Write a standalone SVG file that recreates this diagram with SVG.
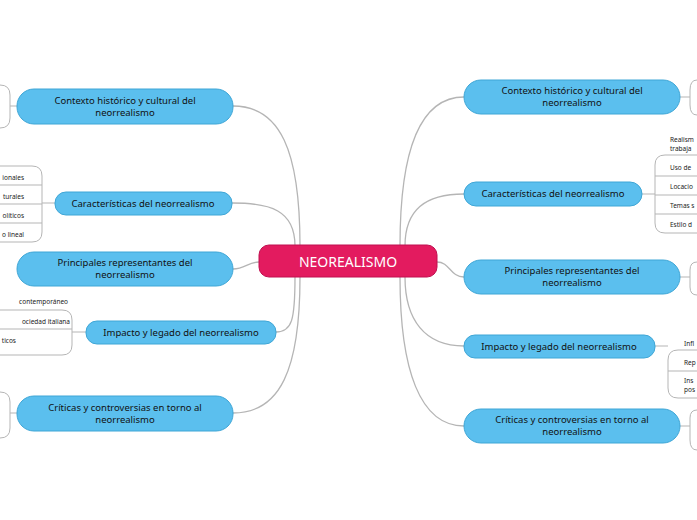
<svg xmlns="http://www.w3.org/2000/svg" width="697" height="520" viewBox="0 0 697 520">
<style>
.n{fill:#5bbfee;stroke:#3fa6d6;stroke-width:1}
.t{font-family:"Noto Sans",sans-serif;font-size:9.5px;fill:#111;text-anchor:middle}
.s{font-family:"Noto Sans",sans-serif;font-size:6.5px;fill:#222}
.c{fill:none;stroke:#b5b5b5;stroke-width:1.3}
.b{fill:none;stroke:#b5b5b5;stroke-width:1}
</style>
<rect width="697" height="520" fill="#fff"/>
<g id="connectors">
<path class="c" d="M300,246 C300,150 280,106 233,106"/>
<path class="c" d="M295,246 C295,210 270,203 232,203"/>
<path class="c" d="M259,262 C248,262 245,269 233,269"/>
<path class="c" d="M295,277 C295,320 292,332 276,332"/>
<path class="c" d="M300,277 C300,370 280,413 233,413"/>
<path class="c" d="M400,246 C400,150 420,97 464,97"/>
<path class="c" d="M405,246 C405,210 425,194 464,194"/>
<path class="c" d="M437,262 C450,262 450,277 464,277"/>
<path class="c" d="M405,277 C405,320 425,346 464,346"/>
<path class="c" d="M400,277 C400,370 420,426 464,426"/>
<!-- left brackets -->
<path class="b" d="M17,106 H10 M0,85 Q10,85 10,95 V118 Q10,128 0,128"/>
<path class="b" d="M55,203 H42 M0,166 H32 Q42,166 42,176 V232 Q42,242 32,242 H0 M0,185 H42 M0,204 H42 M0,223 H42"/>
<path class="b" d="M86,332 H72 M0,310 H62 Q72,310 72,320 V345 Q72,355 62,355 H0 M0,329 H72"/>
<path class="b" d="M17,413 H10 M0,392 Q10,392 10,402 V428 Q10,438 0,438"/>
<!-- right brackets -->
<path class="b" d="M680,97 H690 M697,80 Q690,80 690,90 V105 Q690,115 697,115"/>
<path class="b" d="M642,194 H655 M697,155 H665 Q655,155 655,165 V223 Q655,233 665,233 H697 M655,176 H697 M655,195 H697 M655,214 H697"/>
<path class="b" d="M680,277 H690 M697,262 Q690,262 690,270 V287 Q690,295 697,295"/>
<path class="b" d="M655,346 H668 M697,350 H678 Q668,350 668,360 V388 Q668,398 678,398 H697 M668,371 H697"/>
<path class="b" d="M680,426 H690 M697,410 Q690,410 690,418 V440 Q690,450 697,450"/>
</g>
<g id="center"><rect x="259" y="245" width="178" height="32" rx="10" fill="#e31b5f" stroke="#c01050"/><text x="348" y="267" font-family="Noto Sans,sans-serif" font-size="14" fill="#fff" text-anchor="middle">NEOREALISMO</text></g>
<g id="l1"><rect class="n" x="17" y="89" width="216" height="35" rx="17"/><text class="t" x="125" y="104">Contexto histórico y cultural del</text><text class="t" x="125" y="116">neorrealismo</text></g>
<g id="l2"><rect class="n" x="55" y="192" width="177" height="23" rx="11"/><text class="t" x="143" y="207">Características del neorrealismo</text></g>
<g id="l3"><rect class="n" x="17" y="252" width="216" height="34" rx="17"/><text class="t" x="125" y="266">Principales representantes del</text><text class="t" x="125" y="278">neorrealismo</text></g>
<g id="l4"><rect class="n" x="86" y="321" width="190" height="23" rx="11"/><text class="t" x="181" y="336">Impacto y legado del neorrealismo</text></g>
<g id="l5"><rect class="n" x="17" y="396" width="216" height="35" rx="17"/><text class="t" x="125" y="411">Críticas y controversias en torno al</text><text class="t" x="125" y="423">neorrealismo</text></g>
<g id="r1"><rect class="n" x="464" y="80" width="216" height="34" rx="17"/><text class="t" x="572" y="94">Contexto histórico y cultural del</text><text class="t" x="572" y="106">neorrealismo</text></g>
<g id="r2"><rect class="n" x="464" y="182" width="178" height="24" rx="12"/><text class="t" x="553" y="197">Características del neorrealismo</text></g>
<g id="r3"><rect class="n" x="464" y="260" width="216" height="34" rx="17"/><text class="t" x="572" y="274">Principales representantes del</text><text class="t" x="572" y="286">neorrealismo</text></g>
<g id="r4"><rect class="n" x="464" y="335" width="191" height="23" rx="11"/><text class="t" x="559" y="350">Impacto y legado del neorrealismo</text></g>
<g id="r5"><rect class="n" x="464" y="409" width="216" height="34" rx="17"/><text class="t" x="572" y="423">Críticas y controversias en torno al</text><text class="t" x="572" y="435">neorrealismo</text></g>
<g id="subs">
<text class="s" x="24" y="180" text-anchor="end">ionales</text>
<text class="s" x="24" y="199" text-anchor="end">turales</text>
<text class="s" x="24" y="218" text-anchor="end">olíticos</text>
<text class="s" x="24" y="237" text-anchor="end">o lineal</text>
<text class="s" x="68" y="304" text-anchor="end">contemporáneo</text>
<text class="s" x="70" y="324" text-anchor="end">ociedad italiana</text>
<text class="s" x="16" y="343" text-anchor="end">ticos</text>
<text class="s" x="670" y="142">Realism</text><text class="s" x="670" y="151">trabaja</text>
<text class="s" x="670" y="170">Uso de</text>
<text class="s" x="670" y="189">Locacio</text>
<text class="s" x="670" y="208">Temas s</text>
<text class="s" x="670" y="227">Estilo d</text>
<text class="s" x="684" y="346">Infl</text>
<text class="s" x="684" y="365">Rep</text>
<text class="s" x="684" y="383">Ins</text><text class="s" x="684" y="392">pos</text>
</g>
</svg>
